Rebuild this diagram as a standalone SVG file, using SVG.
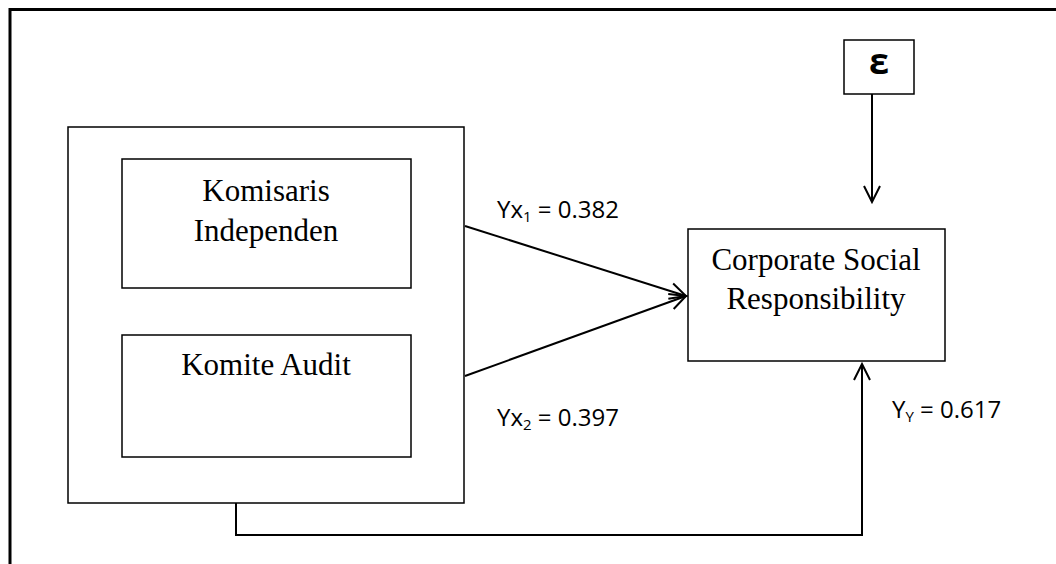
<svg xmlns="http://www.w3.org/2000/svg" width="1056" height="564" viewBox="0 0 1056 564">
<defs>
<style>
.box{fill:#fff;stroke:#000;stroke-width:1.5}
.serif{font-family:"Liberation Serif","Times New Roman",serif;font-size:31px;fill:#000;text-anchor:middle}
.lbl{font-family:"Open Sans","Liberation Sans",sans-serif;font-size:24px;fill:#000}
.sub{font-size:15px}
.con{fill:none;stroke:#000;stroke-width:2}
</style>
<marker id="arr" viewBox="0 0 20 20" refX="18" refY="10" markerWidth="20" markerHeight="20" markerUnits="userSpaceOnUse" orient="auto">
<path d="M2,2 L18,10 L2,18" fill="none" stroke="#000" stroke-width="2"/>
</marker>
</defs>
<rect width="1056" height="564" fill="#fff"/>
<path d="M10,564 V9.5 H1056" fill="none" stroke="#000" stroke-width="3"/>
<g id="outer"><rect class="box" x="68" y="127" width="396" height="376"/></g>
<g id="komisaris"><rect class="box" x="122" y="159" width="289" height="129"/>
<text class="serif" x="266" y="201">Komisaris</text>
<text class="serif" x="266" y="241">Independen</text></g>
<g id="komite"><rect class="box" x="122" y="335" width="289" height="122"/>
<text class="serif" x="266" y="375">Komite Audit</text></g>
<g id="csr"><rect class="box" x="688" y="229" width="257" height="132"/>
<text class="serif" x="816" y="270">Corporate Social</text>
<text class="serif" x="816" y="309">Responsibility</text></g>
<g id="epsilon"><rect class="box" x="844" y="40" width="70" height="54"/>
<text x="879" y="74" font-family="'Open Sans','Liberation Sans',sans-serif" font-size="36" font-weight="bold" text-anchor="middle">ε</text></g>
<g id="connectors">
<line class="con" x1="465" y1="226" x2="686" y2="296" marker-end="url(#arr)"/>
<line class="con" x1="465" y1="376" x2="686" y2="296" marker-end="url(#arr)"/>
<line class="con" x1="872" y1="94" x2="872" y2="202" marker-end="url(#arr)"/>
<path class="con" d="M236,503 V535 H862 V364" marker-end="url(#arr)"/>
</g>
<g id="labels">
<text class="lbl" x="497" y="218">Yx<tspan class="sub" dy="4">1</tspan><tspan dy="-4"> = 0.382</tspan></text>
<text class="lbl" x="497" y="426">Yx<tspan class="sub" dy="4">2</tspan><tspan dy="-4"> = 0.397</tspan></text>
<text class="lbl" x="892" y="418">Y<tspan class="sub" dy="4">Y</tspan><tspan dy="-4"> = 0.617</tspan></text>
</g>
</svg>
